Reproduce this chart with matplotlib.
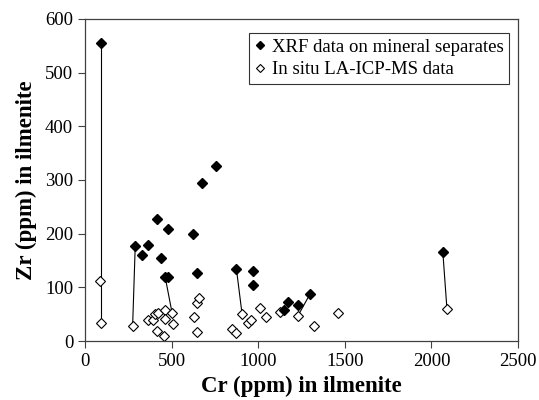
import matplotlib.pyplot as plt

# XRF data on mineral separates (filled diamonds)
xrf_cr = [92, 290, 330, 365, 413, 440, 463, 482, 480, 622, 649, 678, 759,
          874, 970, 970, 1147, 1174, 1228, 1300, 2066]
xrf_zr = [555, 177, 161, 179, 228, 154, 119, 119, 208, 199, 126, 294, 326,
          135, 131, 104, 57, 72, 68, 88, 166]

# In situ LA-ICP-MS data (open diamonds)
icp_cr = [88, 92, 275, 365, 390, 403, 419, 413, 455, 461, 461, 503, 509,
          632, 644, 649, 659, 847, 874, 907, 941, 957, 1010, 1047, 1124,
          1228, 1324, 1458, 2090]
icp_zr = [112, 34, 28, 39, 39, 51, 52, 19, 9, 57, 41, 52, 32,
          44, 17, 71, 80, 22, 14, 50, 34, 39, 62, 44, 54,
          46, 28, 52, 59]

# tie lines: (xrf index, icp index)
ties = [(0, 1), (1, 2), (6, 11), (13, 19), (19, 25), (20, 28)]

plt.rcParams['font.family'] = ['Liberation Serif', 'DejaVu Serif']

fig = plt.figure(figsize=(5.39, 4.0), dpi=100)
ax = fig.add_axes([0.1577, 0.1475, 0.8033, 0.805])

for i, j in ties:
    ax.plot([xrf_cr[i], icp_cr[j]], [xrf_zr[i], icp_zr[j]],
            color='black', lw=0.8, zorder=1)

ax.plot(xrf_cr, xrf_zr, ls='none', marker='D', ms=5, color='black',
        mec='black', label='XRF data on mineral separates', zorder=3)
ax.plot(icp_cr, icp_zr, ls='none', marker='D', ms=5, mfc='white',
        mec='black', mew=0.8, label='In situ LA-ICP-MS data', zorder=2)

ax.set_xlim(0, 2500)
ax.set_ylim(0, 600)
ax.set_xticks(range(0, 2501, 500))
ax.set_yticks(range(0, 601, 100))
ax.tick_params(direction='out', length=5, width=0.8, labelsize=13.5,
               color='#404040', top=False, right=False)
for s in ax.spines.values():
    s.set_color('#404040')
    s.set_linewidth(0.9)

ax.set_xlabel('Cr (ppm) in ilmenite', fontsize=16.5, fontweight='bold',
              labelpad=4)
ax.set_ylabel('Zr (ppm) in ilmenite', fontsize=16.5, fontweight='bold',
              labelpad=6)

leg = ax.legend(loc='upper right', bbox_to_anchor=(509 / 539, 1 - 33 / 400),
                bbox_transform=fig.transFigure, fontsize=13.5, frameon=True,
                fancybox=False, edgecolor='black', handlelength=0.6,
                handletextpad=0.3, borderpad=0.3, labelspacing=0.3,
                markerscale=0.8, borderaxespad=0)
leg.get_frame().set_linewidth(0.8)

fig.savefig('out.png', dpi=100)
